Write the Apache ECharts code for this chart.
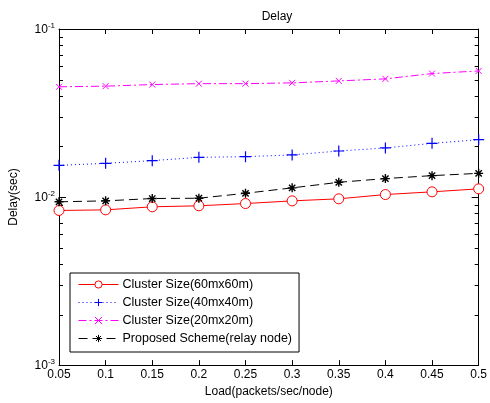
<!DOCTYPE html>
<html>
<head>
<meta charset="utf-8">
<script src="https://cdn.jsdelivr.net/npm/echarts@6/dist/echarts.min.js"></script>
<style>
  html, body { margin: 0; padding: 0; background: #fff; }
  #chart { width: 490px; height: 403px; }
</style>
</head>
<body>
<div id="chart"></div>
<script>
// Offered load per node (packets/sec/node)
const loads = [0.05, 0.1, 0.15, 0.2, 0.25, 0.3, 0.35, 0.4, 0.45, 0.5];

// End-to-end delay (sec) for each configuration
const delay60 = [0.00832, 0.00839, 0.00875, 0.00887, 0.00915, 0.00949, 0.00976, 0.01035, 0.01074, 0.01119];
const delay40 = [0.01544, 0.01587, 0.01647, 0.01723, 0.01739, 0.01780, 0.01880, 0.01959, 0.02087, 0.02194];
const delay20 = [0.0453, 0.0457, 0.0467, 0.0473, 0.0473, 0.0478, 0.0491, 0.0505, 0.0543, 0.0563];
const delayRelay = [0.00937, 0.00949, 0.00980, 0.00984, 0.01053, 0.01134, 0.01224, 0.01288, 0.01341, 0.01384];

const seriesNames = [
  'Cluster Size(60mx60m)',
  'Cluster Size(40mx40m)',
  'Cluster Size(20mx20m)',
  'Proposed Scheme(relay node)'
];

// Axis ranges and tick settings
const xMin = 0.05, xMax = 0.5, xStep = 0.05;
const yMin = 0.001, yMax = 0.1;

const FONT = '"Liberation Sans", Arial, sans-serif';
const pair = ys => loads.map((x, i) => [x, ys[i]]);

const plusPath = 'path://M0,-10L0,10M-10,0L10,0';
const crossPath = 'path://M-10,-10L10,10M-10,10L10,-10';
const starPath = 'path://M0,-10L0,10M-10,0L10,0M-7,-7L7,7M-7,7L7,-7';

const chart = echarts.init(document.getElementById('chart'), null, { renderer: 'canvas' });

const expLabel = v => {
  const e = Math.round(Math.log10(v));
  return '{b|10}{s|' + e + '}';
};

const option = {
  backgroundColor: '#fff',
  animation: false,
  title: {
    text: 'Delay',
    left: 272,
    top: 6,
    textAlign: 'center',
    textStyle: { fontFamily: FONT, fontSize: 12, fontWeight: 'normal', color: '#000' }
  },
  grid: { left: 54, right: 8, top: 29, bottom: 37, containLabel: false },
  legend: {
    orient: 'vertical',
    left: 70,
    top: 273,
    padding: [5, 7, 7, 8],
    itemGap: 5,
    itemWidth: 40,
    itemHeight: 9,
    borderColor: '#000',
    borderWidth: 1,
    borderRadius: 0,
    backgroundColor: '#fff',
    lineStyle: { width: 1 },
    itemStyle: { borderWidth: 1 },
    textStyle: { fontFamily: FONT, fontSize: 12.5, color: '#000', padding: [0, 0, 0, -1] },
    data: seriesNames
  },
  xAxis: [
    {
      type: 'value',
      min: xMin, max: xMax, interval: xStep,
      name: 'Load(packets/sec/node)',
      nameLocation: 'middle',
      nameGap: 18,
      nameTextStyle: { fontFamily: FONT, fontSize: 12, color: '#000' },
      axisLine: { show: true, lineStyle: { color: '#000', width: 1 } },
      axisTick: { show: true, inside: true, length: 5, lineStyle: { color: '#000' } },
      axisLabel: {
        fontFamily: FONT, fontSize: 12, color: '#000', margin: 4,
        formatter: v => String(parseFloat(v.toFixed(2)))
      },
      splitLine: { show: false }
    },
    {
      type: 'value',
      position: 'top',
      min: xMin, max: xMax, interval: xStep,
      axisLine: { show: true, lineStyle: { color: '#000', width: 1 } },
      axisTick: { show: true, inside: true, length: 5, lineStyle: { color: '#000' } },
      axisLabel: { show: false },
      splitLine: { show: false }
    }
  ],
  yAxis: [
    {
      type: 'log',
      min: yMin, max: yMax, logBase: 10,
      name: 'Delay(sec)',
      nameLocation: 'middle',
      nameGap: 39,
      nameRotate: 90,
      nameTextStyle: { fontFamily: FONT, fontSize: 12, color: '#000' },
      axisLine: { show: true, lineStyle: { color: '#000', width: 1 } },
      axisTick: { show: true, inside: true, length: 7, lineStyle: { color: '#000' } },
      axisLabel: {
        margin: 4,
        formatter: expLabel,
        rich: {
          b: { fontFamily: FONT, fontSize: 12, color: '#000', lineHeight: 14, verticalAlign: 'bottom' },
          s: { fontFamily: FONT, fontSize: 8, color: '#000', lineHeight: 14, verticalAlign: 'top', padding: [0, 0, 6, 0] }
        }
      },
      splitLine: { show: false }
    },
    {
      type: 'log',
      position: 'right',
      min: yMin, max: yMax, logBase: 10,
      axisLine: { show: true, lineStyle: { color: '#000', width: 1 } },
      axisTick: { show: true, inside: true, length: 7, lineStyle: { color: '#000' } },
      axisLabel: { show: false },
      splitLine: { show: false }
    }
  ],
  series: [
    {
      name: seriesNames[0],
      type: 'line',
      data: pair(delay60),
      symbol: 'circle',
      symbolSize: 10,
      showSymbol: true,
      lineStyle: { color: '#ff0000', width: 1, type: 'solid' },
      itemStyle: { color: '#ffffff', borderColor: '#ff0000', borderWidth: 1 },
      z: 3
    },
    {
      name: seriesNames[1],
      type: 'line',
      data: pair(delay40),
      symbol: plusPath,
      symbolSize: 11,
      lineStyle: { color: '#0000ff', width: 1, type: [1, 3] },
      itemStyle: { color: '#0000ff', borderColor: '#0000ff', borderWidth: 1.2 },
      z: 3
    },
    {
      name: seriesNames[2],
      type: 'line',
      data: pair(delay20),
      symbol: crossPath,
      symbolSize: 6,
      lineStyle: { color: '#ff00ff', width: 1, type: [8, 3, 2, 3] },
      itemStyle: { color: '#ff00ff', borderColor: '#ff00ff', borderWidth: 1 },
      z: 3
    },
    {
      name: seriesNames[3],
      type: 'line',
      data: pair(delayRelay),
      symbol: starPath,
      symbolSize: 9,
      lineStyle: { color: '#000000', width: 1, type: [9, 5] },
      itemStyle: { color: '#000000', borderColor: '#000000', borderWidth: 1.4 },
      z: 4
    }
  ]
};

chart.setOption(option);

// Log-scale minor ticks (2..9 in each decade) on both vertical edges
const minorValues = [];
for (let d = yMin; d < yMax * 0.999; d *= 10) {
  for (let k = 2; k <= 9; k++) minorValues.push(d * k);
}
const leftX = chart.convertToPixel({ xAxisIndex: 0 }, xMin);
const rightX = chart.convertToPixel({ xAxisIndex: 0 }, xMax);
const minorTicks = [];
minorValues.forEach(v => {
  const y = Math.round(chart.convertToPixel({ yAxisIndex: 0 }, v)) + 0.5;
  minorTicks.push({
    type: 'line', silent: true,
    shape: { x1: leftX, y1: y, x2: leftX + 4, y2: y },
    style: { stroke: '#000', lineWidth: 1 }
  });
  minorTicks.push({
    type: 'line', silent: true,
    shape: { x1: rightX - 4, y1: y, x2: rightX, y2: y },
    style: { stroke: '#000', lineWidth: 1 }
  });
});
chart.setOption({ graphic: minorTicks });
</script>
</body>
</html>
